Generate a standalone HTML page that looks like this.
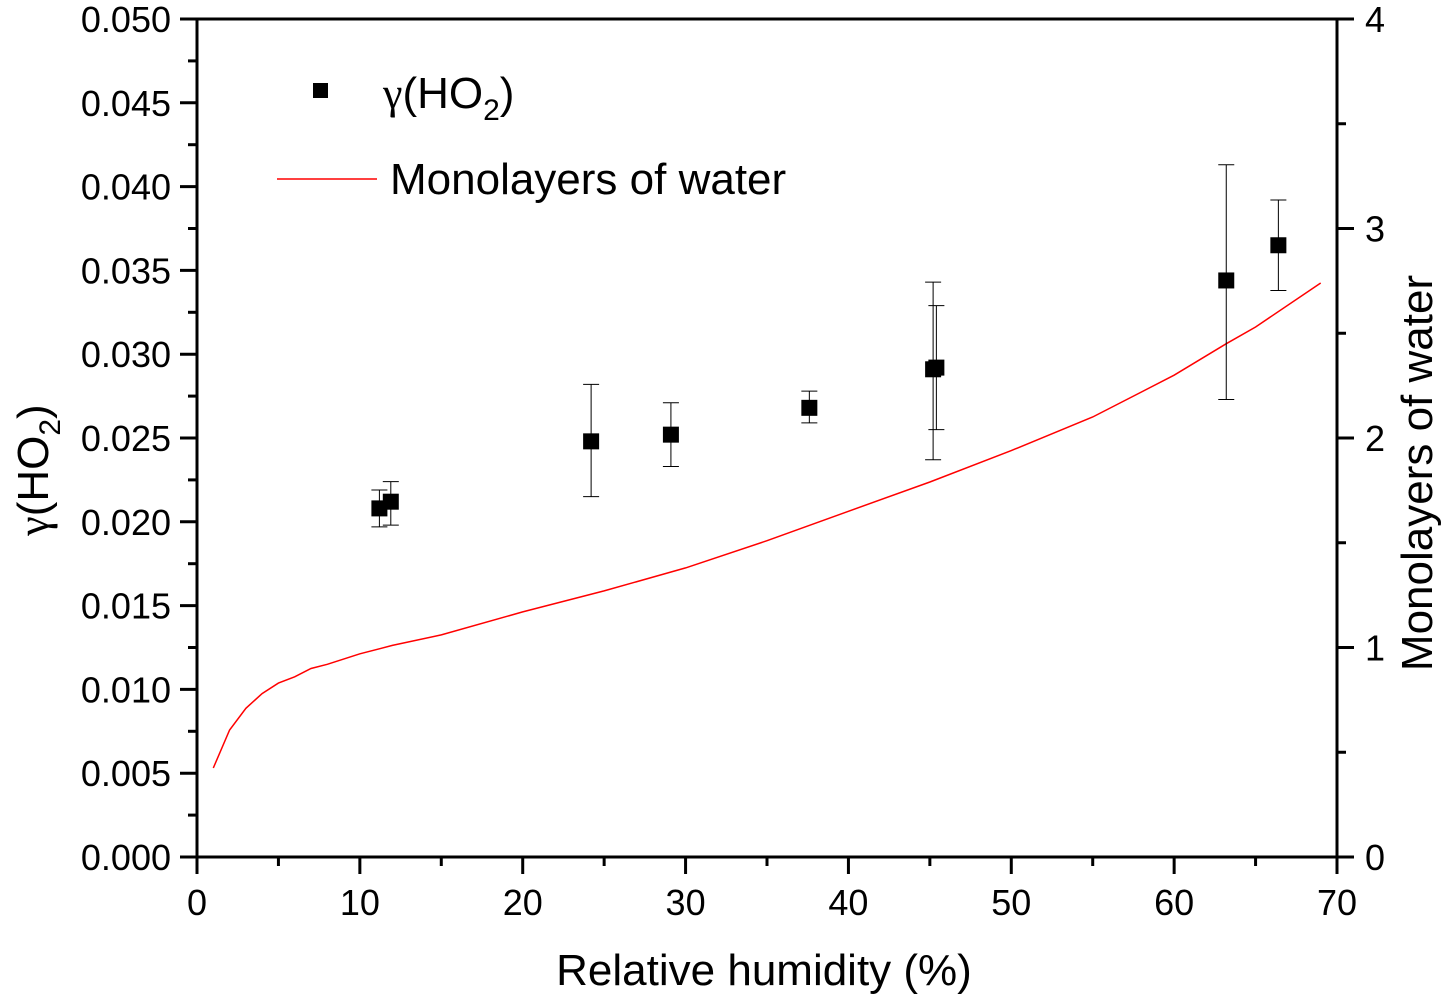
<!DOCTYPE html>
<html><head><meta charset="utf-8"><style>
html,body{margin:0;padding:0;background:#fff;}
svg text{font-family:"Liberation Sans",Arial,sans-serif;fill:#000;}
</style></head><body>
<svg id="chart" width="1442" height="998" xmlns="http://www.w3.org/2000/svg">
<g id="axes"></g><g id="marks"></g>
<g>
<rect x="313" y="83" width="15" height="15" fill="#000"/>
<text x="383" y="108" font-size="44"><tspan font-family="Liberation Serif, serif">γ</tspan>(HO<tspan font-size="30" dy="12">2</tspan><tspan dy="-12">)</tspan></text>
<line x1="277" y1="179" x2="377" y2="179" stroke="#ff0000" stroke-width="1.5"/>
<text x="390" y="194" font-size="44">Monolayers of water</text>
</g>
<text x="764" y="985" font-size="44" text-anchor="middle">Relative humidity (%)</text>
<text transform="translate(48,470) rotate(-90)" font-size="44" text-anchor="middle"><tspan font-family="Liberation Serif, serif">γ</tspan>(HO<tspan font-size="30" dy="12">2</tspan><tspan dy="-12">)</tspan></text>
<text transform="translate(1432,473) rotate(-90)" font-size="44" text-anchor="middle">Monolayers of water</text>
</svg>
<script>
const rhValues=[11.2,11.9,24.2,29.1,37.6,45.2,45.4,63.2,66.4];
const gammaValues=[0.0208,0.0212,0.0248,0.0252,0.0268,0.0291,0.0292,0.0344,0.0365];
const gammaErrTop=[0.0219,0.0224,0.0282,0.0271,0.0278,0.0343,0.0329,0.0413,0.0392];
const gammaErrBottom=[0.0197,0.0198,0.0215,0.0233,0.0259,0.0237,0.0255,0.0273,0.0338];
const lineRh=[1,2,3,4,5,6,7,8,10,12,15,20,25,30,35,40,45,50,55,60,63.2,65,69];
const lineMono=[0.425,0.606,0.71,0.78,0.83,0.86,0.90,0.92,0.97,1.01,1.06,1.17,1.27,1.38,1.51,1.65,1.79,1.94,2.10,2.30,2.45,2.53,2.74];
const xTicks=[0,10,20,30,40,50,60,70];
const yLeftTicks=["0.000","0.005","0.010","0.015","0.020","0.025","0.030","0.035","0.040","0.045","0.050"];
const yRightTicks=["0","1","2","3","4"];

const L=197,R=1337,T=19,B=857;
const xs=v=>L+(v-0)/70*(R-L);
const yl=v=>B-v/0.05*(B-T);
const yr=v=>B-v/4*(B-T);
const NS="http://www.w3.org/2000/svg";
const axes=document.getElementById('axes'),marks=document.getElementById('marks');
function mk(tag,attrs,parent){const e=document.createElementNS(NS,tag);for(const k in attrs)e.setAttribute(k,attrs[k]);parent.appendChild(e);return e;}

const frame=mk('rect',{x:L,y:T,width:R-L,height:B-T,fill:'none',stroke:'#000','stroke-width':3},axes);



for(let v=0;v<=70;v+=5){
  const maj=v%10===0;
  const t=mk('line',{x1:xs(v),x2:xs(v),y1:B,y2:B+(maj?17:9),stroke:'#000','stroke-width':3},axes);
  
  
}
xTicks.forEach(v=>{
  const t=mk('text',{x:xs(v),y:B+58,'font-size':36,'text-anchor':'middle'},axes);t.textContent=v;
  
  
});
for(let i=0;i<=20;i++){
  const v=i*0.0025,maj=i%2===0;
  const t=mk('line',{x1:L,x2:L-(maj?17:9),y1:yl(v),y2:yl(v),stroke:'#000','stroke-width':3},axes);
  
  
}
yLeftTicks.forEach(s=>{
  const t=mk('text',{x:L-26,y:yl(parseFloat(s))+13,'font-size':36,'text-anchor':'end'},axes);t.textContent=s;
  
  
});
for(let i=0;i<=8;i++){
  const v=i*0.5,maj=i%2===0;
  const t=mk('line',{x1:R,x2:R+(maj?17:9),y1:yr(v),y2:yr(v),stroke:'#000','stroke-width':3},axes);
  
  
}
yRightTicks.forEach(s=>{
  const t=mk('text',{x:R+28,y:yr(parseFloat(s))+13,'font-size':36,'text-anchor':'start'},axes);t.textContent=s;
  
  
});

const pts=lineRh.map((v,i)=>xs(v).toFixed(1)+','+yr(lineMono[i]).toFixed(1)).join(' ');
const pl=mk('polyline',{points:pts,fill:'none',stroke:'#ff0000','stroke-width':1.5},marks);



rhValues.forEach((v,i)=>{
  const x=xs(v);
  const g=mk('g',{},marks);
  
  
  mk('line',{x1:x,x2:x,y1:yl(gammaErrTop[i]),y2:yl(gammaErrBottom[i]),stroke:'#000','stroke-width':1},g);
  mk('line',{x1:x-8,x2:x+8,y1:yl(gammaErrTop[i]),y2:yl(gammaErrTop[i]),stroke:'#000','stroke-width':1},g);
  mk('line',{x1:x-8,x2:x+8,y1:yl(gammaErrBottom[i]),y2:yl(gammaErrBottom[i]),stroke:'#000','stroke-width':1},g);
  mk('rect',{x:x-8,y:yl(gammaValues[i])-8,width:16,height:16,fill:'#000'},g);
});
</script>
</body></html>
